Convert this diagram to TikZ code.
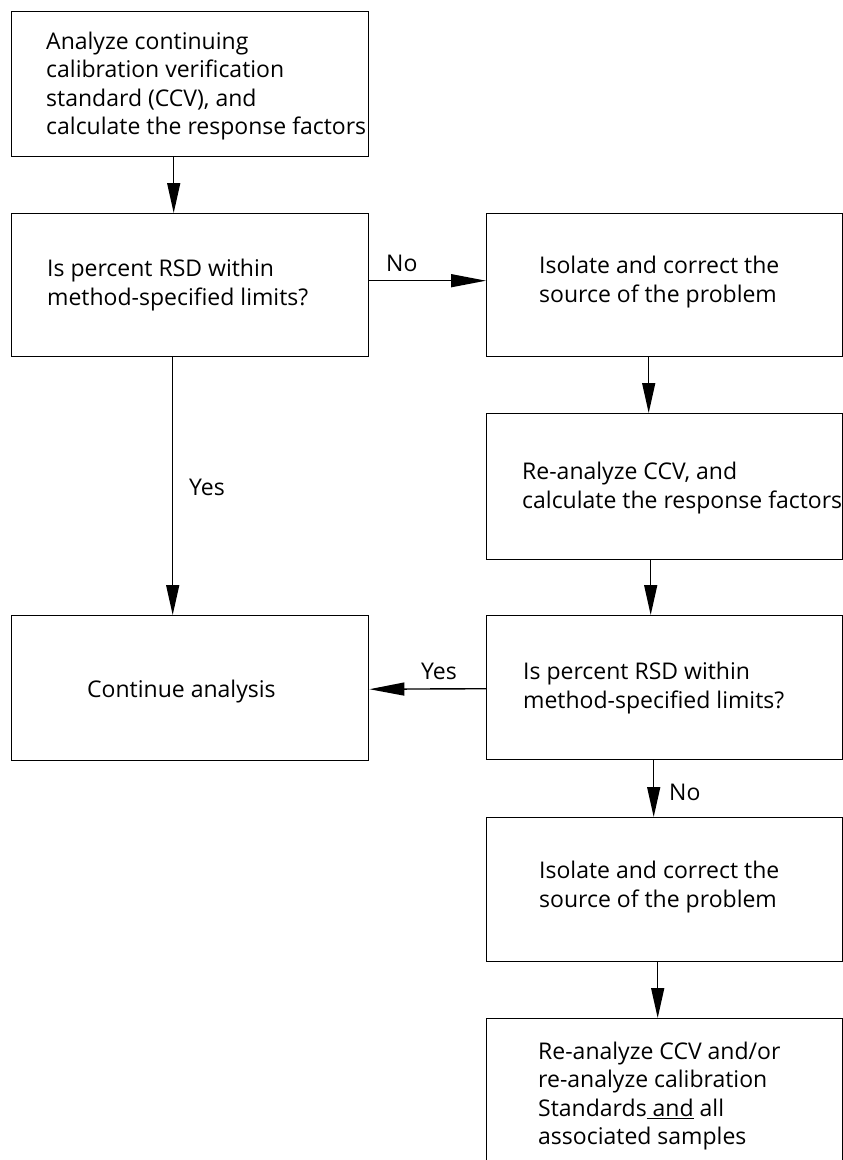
\documentclass[tikz,border=0pt]{standalone}
\usepackage{fontspec}
\setmainfont{Open Sans}
\usetikzlibrary{arrows.meta,positioning}
\begin{document}
\begin{tikzpicture}[x=1pt,y=-1pt,
  box/.style={draw=black,line width=1.4pt,rectangle,inner sep=0pt,anchor=north west},
  txt/.style={anchor=west,align=left,inner sep=0pt,font=\fontsize{23}{28.5}\selectfont},
  lbl/.style={inner sep=0pt,font=\fontsize{23}{28.5}\selectfont},
  vflow/.style={line width=1.4pt,-{Triangle[length=30pt,width=13pt]}},
  hflow/.style={line width=1.4pt,-{Triangle[length=35pt,width=13pt]}}]
\useasboundingbox (0,0) rectangle (843,1160);

% boxes
\node[box,minimum width=357pt,minimum height=145pt] (b1) at (11,11) {};
\node[box,minimum width=357pt,minimum height=143pt] (b2) at (11,213) {};
\node[box,minimum width=356pt,minimum height=143pt] (b3) at (486,213) {};
\node[box,minimum width=356pt,minimum height=146pt] (b4) at (486,413) {};
\node[box,minimum width=357pt,minimum height=145pt] (b5) at (11,615) {};
\node[box,minimum width=356pt,minimum height=144pt] (b6) at (486,615) {};
\node[box,minimum width=356pt,minimum height=144pt] (b7) at (486,817) {};
\node[box,minimum width=356pt,minimum height=170pt] (b8) at (486,1018) {};

% box texts
\node[txt] (t1) at (46,86) {Analyze continuing\\calibration verification\\standard (CCV), and\\calculate the response factors};
\node[txt] (t2) at (47,285) {Is percent RSD within\\method-specified limits?};
\node[txt] (t3) at (539,282) {Isolate and correct the\\source of the problem};
\node[txt] (t4) at (522,488) {Re-analyze CCV, and\\calculate the response factors};
\node[txt] (t5) at (87,692) {Continue analysis};
\node[txt] (t6) at (523,688) {Is percent RSD within\\method-specified limits?};
\node[txt] (t7) at (539,887) {Isolate and correct the\\source of the problem};
\node[txt] (t8) at (538,1096) {Re-analyze CCV and/or\\re-analyze calibration\\Standards\underline{\ and} all\\associated samples};

% connectors
\draw[vflow] ([xshift=-16.5pt]b1.south) -- ([xshift=-16.5pt]b2.north);
\draw[hflow] ([yshift=4.5pt]b2.east) -- ([yshift=4.5pt]b3.west);
\draw[vflow] ([xshift=-17.5pt]b2.south) -- ([xshift=-17.5pt]b5.north);
\draw[vflow] ([xshift=-16pt]b3.south) -- ([xshift=-16pt]b4.north);
\draw[vflow] ([xshift=-14pt]b4.south) -- ([xshift=-14pt]b6.north);
\draw[hflow] ([yshift=-1pt]b6.west) -- ([yshift=-1pt]b5.east);
\draw[vflow] ([xshift=-11pt]b6.south) -- ([xshift=-11pt]b7.north);
\draw[vflow] ([xshift=-7pt]b7.south) -- ([xshift=-7pt]b8.north);

% branch labels
\node[lbl,anchor=west] (l1) at (386,263) {No};
\node[lbl,anchor=west] (l2) at (189,487) {Yes};
\node[lbl] (l3) at (439,671) {Yes};
\node[lbl,anchor=west] (l4) at (669,792) {No};
\end{tikzpicture}
\end{document}
